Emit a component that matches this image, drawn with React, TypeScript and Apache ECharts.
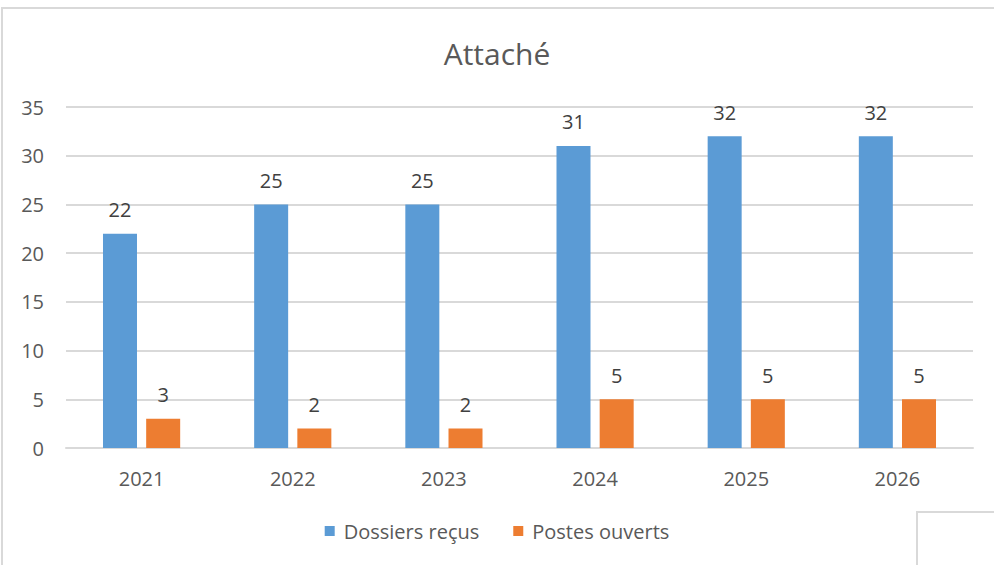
import React, { useEffect, useRef } from "react";
import * as echarts from "echarts";

const categories = ["2021", "2022", "2023", "2024", "2025", "2026"];
const dossiersRecus = [22, 25, 25, 31, 32, 32];
const postesOuverts = [3, 2, 2, 5, 5, 5];
const seriesNames = ["Dossiers reçus", "Postes ouverts"];
const titleText = "Attaché";

const FONT = "'Open Sans', 'Noto Sans', sans-serif";
const TXT = "#595959";

export default function App() {
  const ref = useRef<HTMLDivElement>(null);
  useEffect(() => {
    if (!ref.current) return;
    const chart = echarts.init(ref.current, null, { renderer: "svg" });
    const labelStyle = { show: true, position: "top" as const, distance: 14, color: "#404040", fontSize: 20, fontFamily: FONT };
    chart.setOption({
      animation: false,
      backgroundColor: "#ffffff",
      title: {
        text: titleText,
        left: "center",
        top: 33,
        textStyle: { color: TXT, fontSize: 30, fontWeight: "normal", fontFamily: FONT },
      },
      grid: { left: 66, right: 21, top: 107, bottom: 117, containLabel: false },
      legend: {
        data: seriesNames,
        bottom: 19,
        left: "center",
        itemWidth: 10,
        itemHeight: 10,
        itemGap: 34,
        icon: "rect",
        textStyle: { color: TXT, fontSize: 20, fontFamily: FONT, padding: [0, 0, 0, 4] },
      },
      xAxis: {
        type: "category",
        data: categories,
        axisLine: { show: true, lineStyle: { color: "#d9d9d9", width: 2 } },
        axisTick: { show: false },
        axisLabel: { color: TXT, fontSize: 20, fontFamily: FONT, margin: 20 },
      },
      yAxis: {
        type: "value",
        min: 0,
        max: 35,
        interval: 5,
        axisLine: { show: false },
        axisTick: { show: false },
        splitLine: { lineStyle: { color: "#d9d9d9", width: 2 } },
        axisLabel: { color: TXT, fontSize: 20, fontFamily: FONT, margin: 22 },
      },
      series: [
        {
          name: seriesNames[0],
          type: "bar",
          data: dossiersRecus,
          barWidth: 34,
          barGap: "27%",
          itemStyle: { color: "#5B9BD5" },
          label: labelStyle,
        },
        {
          name: seriesNames[1],
          type: "bar",
          data: postesOuverts,
          barWidth: 34,
          itemStyle: { color: "#ED7D31" },
          label: labelStyle,
        },
      ],
      graphic: [
        {
          type: "rect",
          shape: { x: 2, y: 8, width: 1100, height: 700 },
          style: { fill: "none", stroke: "#d9d9d9", lineWidth: 2 },
          silent: true,
        },
        {
          type: "rect",
          shape: { x: 917, y: 512, width: 200, height: 200 },
          style: { fill: "none", stroke: "#d9d9d9", lineWidth: 2 },
          silent: true,
        },
      ],
    });
    return () => chart.dispose();
  }, []);
  return (
    <div
      ref={ref}
      style={{ position: "absolute", left: 0, top: 0, width: 994, height: 565 }}
    />
  );
}
